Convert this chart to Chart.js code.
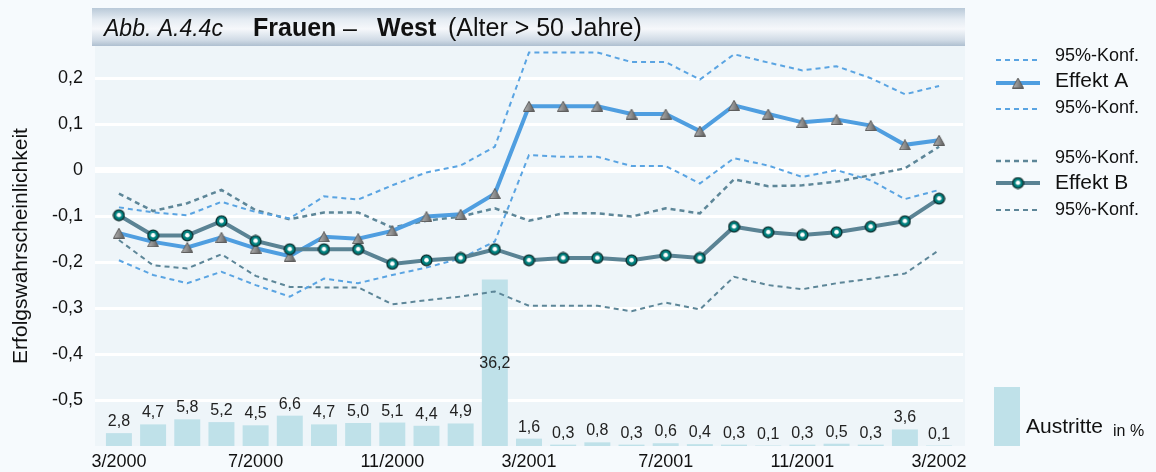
<!DOCTYPE html>
<html>
<head>
<meta charset="utf-8">
<script src="https://cdn.jsdelivr.net/npm/chart.js@4.4.1/dist/chart.umd.min.js"></script>
<style>
  html, body { margin: 0; padding: 0; background: #f6fafd; }
  canvas { display: block; }
</style>
</head>
<body>
<canvas id="chart1" width="1156" height="472"></canvas>
<script>
// months on the x axis (3/2000 .. 3/2002)
var months = ['3/2000', '4/2000', '5/2000', '6/2000', '7/2000', '8/2000', '9/2000', '10/2000',
    '11/2000', '12/2000', '1/2001', '2/2001', '3/2001', '4/2001', '5/2001', '6/2001', '7/2001',
    '8/2001', '9/2001', '10/2001', '11/2001', '12/2001', '1/2002', '2/2002', '3/2002'];
var xTickLabels = ['3/2000', '7/2000', '11/2000', '3/2001', '7/2001', '11/2001', '3/2002'];
var yTicks = [0.2, 0.1, 0, -0.1, -0.2, -0.3, -0.4, -0.5];

// Effekt A with its 95% band
var effektA = [-0.137, -0.156, -0.168, -0.146, -0.170, -0.187, -0.145, -0.149, -0.132, -0.101, -0.096, -0.051,
    0.139, 0.139, 0.139, 0.122, 0.122, 0.085, 0.141, 0.122, 0.104, 0.110, 0.097, 0.055, 0.065];
var upperA = [-0.081, -0.092, -0.098, -0.069, -0.091, -0.105, -0.057, -0.064, -0.033, -0.005, 0.010, 0.051,
    0.256, 0.256, 0.256, 0.235, 0.235, 0.197, 0.252, 0.234, 0.217, 0.226, 0.200, 0.165, 0.183];
var lowerA = [-0.196, -0.228, -0.246, -0.221, -0.250, -0.275, -0.236, -0.246, -0.228, -0.212, -0.192, -0.155,
    0.033, 0.029, 0.029, 0.009, 0.009, -0.029, 0.026, 0.010, -0.015, 0.000, -0.022, -0.063, -0.043];

// Effekt B with its 95% band
var effektB = [-0.098, -0.142, -0.142, -0.111, -0.154, -0.172, -0.172, -0.172, -0.204, -0.196, -0.191, -0.172,
    -0.196, -0.191, -0.191, -0.196, -0.185, -0.191, -0.123, -0.135, -0.141, -0.135, -0.123, -0.111, -0.062];
var upperB = [-0.051, -0.089, -0.072, -0.043, -0.087, -0.107, -0.092, -0.092, -0.125, -0.110, -0.101, -0.083,
    -0.110, -0.094, -0.094, -0.101, -0.083, -0.094, -0.020, -0.035, -0.033, -0.025, -0.011, 0.004, 0.051];
var lowerB = [-0.152, -0.207, -0.214, -0.183, -0.230, -0.254, -0.255, -0.255, -0.292, -0.283, -0.275, -0.264,
    -0.295, -0.295, -0.295, -0.307, -0.288, -0.303, -0.232, -0.250, -0.259, -0.246, -0.236, -0.225, -0.174];

// Austritte in %
var austritte = [2.8, 4.7, 5.8, 5.2, 4.5, 6.6, 4.7, 5.0, 5.1, 4.4, 4.9, 36.2, 1.6, 0.3, 0.8, 0.3, 0.6, 0.4,
    0.3, 0.1, 0.3, 0.5, 0.3, 3.6, 0.1];

var FONT = '"Liberation Sans", Arial, sans-serif';
Chart.defaults.font.family = FONT;
Chart.defaults.color = '#111';

function fmt(v) {
    return v === 0 ? '0' : v.toFixed(1).replace('.', ',');
}

// marker images
function makeTriangle() {
    var c = document.createElement('canvas');
    c.width = 12; c.height = 11;
    var g = c.getContext('2d');
    var grad = g.createLinearGradient(0, 0, 12, 0);
    grad.addColorStop(0, '#b8b8b8');
    grad.addColorStop(0.5, '#8c8c8c');
    grad.addColorStop(1, '#565656');
    g.fillStyle = grad;
    g.beginPath();
    g.moveTo(6, 0.5); g.lineTo(11.5, 10.5); g.lineTo(0.5, 10.5); g.closePath();
    g.fill();
    g.strokeStyle = '#5e5e5e';
    g.lineWidth = 1;
    g.stroke();
    return c;
}
function makeCircle() {
    var c = document.createElement('canvas');
    c.width = 13; c.height = 13;
    var g = c.getContext('2d');
    g.beginPath();
    g.arc(6.5, 6.5, 5.4, 0, Math.PI * 2);
    g.fillStyle = '#00807e';
    g.fill();
    g.lineWidth = 1.3;
    g.strokeStyle = '#0b2d2d';
    g.stroke();
    g.beginPath();
    g.arc(6.5, 6.2, 2.3, 0, Math.PI * 2);
    g.fillStyle = '#fff';
    g.fill();
    return c;
}
var triImg = makeTriangle();
var circImg = makeCircle();

function konf(data, color, width) {
    return {
        type: 'line', label: '95%-Konf.', data: data, yAxisID: 'y',
        borderColor: color, borderWidth: width, borderDash: [5, 4],
        pointRadius: 0, tension: 0, fill: false, order: 5
    };
}

var datasets = [
    { type: 'bar', label: 'Austritte', data: austritte, yAxisID: 'y2', backgroundColor: '#bfe1e9',
      categoryPercentage: 1, barPercentage: 0.76, order: 10 },
    konf(upperA, '#5aa4e2', 2),
    { type: 'line', label: 'Effekt A', data: effektA, yAxisID: 'y', borderColor: '#4f9ee0', borderWidth: 4,
      pointStyle: triImg, pointRadius: 6, tension: 0, order: 2 },
    konf(lowerA, '#5aa4e2', 2),
    konf(upperB, '#5d8698', 2.5),
    { type: 'line', label: 'Effekt B', data: effektB, yAxisID: 'y', borderColor: '#5a8394', borderWidth: 4,
      pointStyle: circImg, pointRadius: 6, tension: 0, order: 1 },
    konf(lowerB, '#5d8698', 2)
];

// right-hand legend rows: dataset index, line y, text baseline, font
var legendRows = [
    { index: 1, y: 60, base: 61, font: '18px ' + FONT },
    { index: 2, y: 83, base: 87, font: '21px ' + FONT },
    { index: 3, y: 109, base: 113, font: '18px ' + FONT },
    { index: 4, y: 161, base: 163, font: '18px ' + FONT },
    { index: 5, y: 183, base: 189, font: '21px ' + FONT },
    { index: 6, y: 210, base: 215, font: '18px ' + FONT }
];

var framePlugin = {
    id: 'frame',
    beforeDraw: function(chart) {
        var ctx = chart.ctx, a = chart.chartArea;
        ctx.save();
        // plot background
        ctx.fillStyle = '#eef5f9';
        ctx.fillRect(a.left, a.top, a.right - a.left + 2, a.bottom - a.top);
        // title bar
        var grad = ctx.createLinearGradient(0, 8, 0, 46);
        grad.addColorStop(0, '#b9c9d8');
        grad.addColorStop(0.3, '#e4ebf2');
        grad.addColorStop(0.55, '#f6f8fb');
        grad.addColorStop(0.85, '#cfdae5');
        grad.addColorStop(1, '#aebfd0');
        ctx.fillStyle = grad;
        ctx.fillRect(92, 8, 873, 38);
        ctx.fillStyle = '#111';
        ctx.textBaseline = 'alphabetic';
        ctx.textAlign = 'left';
        ctx.font = 'italic 23px ' + FONT;
        ctx.fillText('Abb. A.4.4c', 104, 36);
        ctx.font = 'bold 25px ' + FONT;
        ctx.fillText('Frauen', 253, 36);
        ctx.font = '25px ' + FONT;
        ctx.fillText('\u2013', 343, 37);
        ctx.font = 'bold 25px ' + FONT;
        ctx.fillText('West', 377, 36);
        ctx.font = '25px ' + FONT;
        ctx.fillText('(Alter > 50 Jahre)', 448, 36);
        ctx.restore();
    },
    afterDatasetsDraw: function(chart) {
        var ctx = chart.ctx;
        var meta = chart.getDatasetMeta(0);
        ctx.save();
        ctx.font = '16px ' + FONT;
        ctx.fillStyle = '#222';
        ctx.textAlign = 'center';
        ctx.textBaseline = 'alphabetic';
        meta.data.forEach(function(bar, i) {
            var base = Math.max(bar.y - 7, chart.chartArea.bottom - 78);
            ctx.fillText(fmt(austritte[i]), bar.x, base);
        });
        ctx.restore();
    },
    afterDraw: function(chart) {
        var ctx = chart.ctx;
        var x0 = 996, x1 = 1040, tx = 1055;
        ctx.save();
        legendRows.forEach(function(row) {
            var ds = chart.data.datasets[row.index];
            ctx.strokeStyle = ds.borderColor;
            ctx.lineWidth = ds.borderWidth;
            ctx.setLineDash(ds.borderDash || []);
            ctx.beginPath();
            ctx.moveTo(x0, row.y);
            ctx.lineTo(x1, row.y);
            ctx.stroke();
            ctx.setLineDash([]);
            if (ds.pointRadius > 0) {
                var img = ds.pointStyle;
                ctx.drawImage(img, (x0 + x1) / 2 - img.width / 2, row.y - img.height / 2);
            }
            ctx.fillStyle = '#111';
            ctx.font = row.font;
            ctx.fillText(ds.label, tx, row.base);
        });
        // Austritte legend
        var bars = chart.data.datasets[0];
        ctx.fillStyle = bars.backgroundColor;
        ctx.fillRect(994, 387, 26, 59);
        ctx.fillStyle = '#111';
        ctx.font = '21px ' + FONT;
        ctx.fillText(bars.label, 1026, 433);
        ctx.font = '16px ' + FONT;
        ctx.fillText('in %', 1113, 436);
        ctx.restore();
    }
};

var ctx1 = document.getElementById('chart1').getContext('2d');
var chart1 = new Chart(ctx1, {
    type: 'bar',
    data: { labels: months.map(function(m, i) { return i; }), datasets: datasets },
    options: {
        responsive: false,
        animation: false,
        layout: { padding: { top: 46, right: 193, left: 0, bottom: 0 } },
        plugins: { legend: { display: false }, tooltip: { enabled: false } },
        scales: {
            x: {
                type: 'linear', min: -0.7, max: 24.7, offset: false,
                grid: { display: false, drawTicks: false }, border: { display: false },
                afterBuildTicks: function(scale) {
                    scale.ticks = xTickLabels.map(function(l) { return { value: months.indexOf(l) }; });
                },
                afterFit: function(scale) { scale.height = 26; },
                ticks: {
                    padding: 5, maxRotation: 0, autoSkip: false,
                    font: { size: 18 },
                    callback: function(v) { return months[v]; }
                }
            },
            y: {
                type: 'linear', position: 'left', min: -0.6, max: 0.27,
                border: { display: false },
                grid: {
                    color: '#ffffff', drawTicks: false,
                    lineWidth: function(c) { return c.tick && c.tick.value === 0 ? 6 : 3; }
                },
                afterBuildTicks: function(scale) {
                    scale.ticks = yTicks.map(function(v) { return { value: v }; });
                },
                afterFit: function(scale) { scale.width = 95; },
                ticks: { padding: 12, font: { size: 18 }, callback: function(v) { return fmt(v); } },
                title: {
                    display: true, text: 'Erfolgswahrscheinlichkeit',
                    font: { size: 21 }, padding: { top: 9, bottom: 0 }
                }
            },
            y2: { type: 'linear', min: 0, max: 87, display: false }
        }
    },
    plugins: [framePlugin]
});
</script>
</body>
</html>
